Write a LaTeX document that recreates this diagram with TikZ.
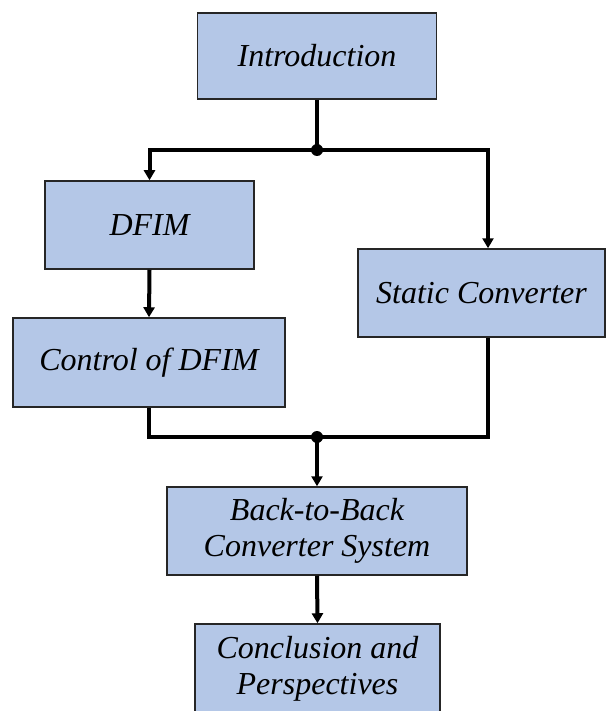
\documentclass[tikz,border=0pt]{standalone}
\usepackage{fontspec}
\setmainfont{Liberation Serif}
\usetikzlibrary{arrows.meta}
\definecolor{boxfill}{HTML}{B4C7E7}
\tikzset{
  box/.style={draw=black!85, line width=1.5pt, fill=boxfill, rectangle, inner sep=0pt, align=center,
    font=\fontsize{32}{36}\selectfont\itshape},
  conn/.style={line width=4pt, black},
  arr/.style={conn, -{Triangle[length=10pt,width=11pt]}},
  junction/.style={circle, fill=black, inner sep=0pt, minimum size=12pt}
}
\begin{document}
\begin{tikzpicture}[x=1pt,y=-1pt]
\useasboundingbox (0,0) rectangle (608,711);
\node[box, minimum width=239pt, minimum height=86pt] (intro) at (317,56) {Introduction};
\node[box, minimum width=209pt, minimum height=88pt] (dfim) at (149.5,225) {DFIM};
\node[box, minimum width=272pt, minimum height=89pt] (control) at (149,362.5) {Control of DFIM};
\node[box, minimum width=247pt, minimum height=88pt] (static) at (481.5,293) {Static Converter};
\node[box, minimum width=300pt, minimum height=88pt] (back) at (317,531) {Back-to-Back\\Converter System};
\node[box, minimum width=245pt, minimum height=90pt] (concl) at (317.5,669) {Conclusion and\\Perspectives};
\coordinate (j1) at (317,150);
\coordinate (j2) at (317,437);
\draw[conn] (intro.south) -- (j1);
\draw[arr] (j1) -| (dfim.north);
\draw[arr] (j1) -| ([xshift=6.5pt]static.north);
\draw[arr] (dfim.south) -- (control.north);
\draw[conn] (control.south) |- (j2);
\draw[conn] ([xshift=6.5pt]static.south) |- (j2);
\draw[arr] (j2) -- (back.north);
\draw[arr] (back.south) -- (concl.north);
\node[junction] (d1) at (j1) {};
\node[junction] (d2) at (j2) {};
\end{tikzpicture}
\end{document}
